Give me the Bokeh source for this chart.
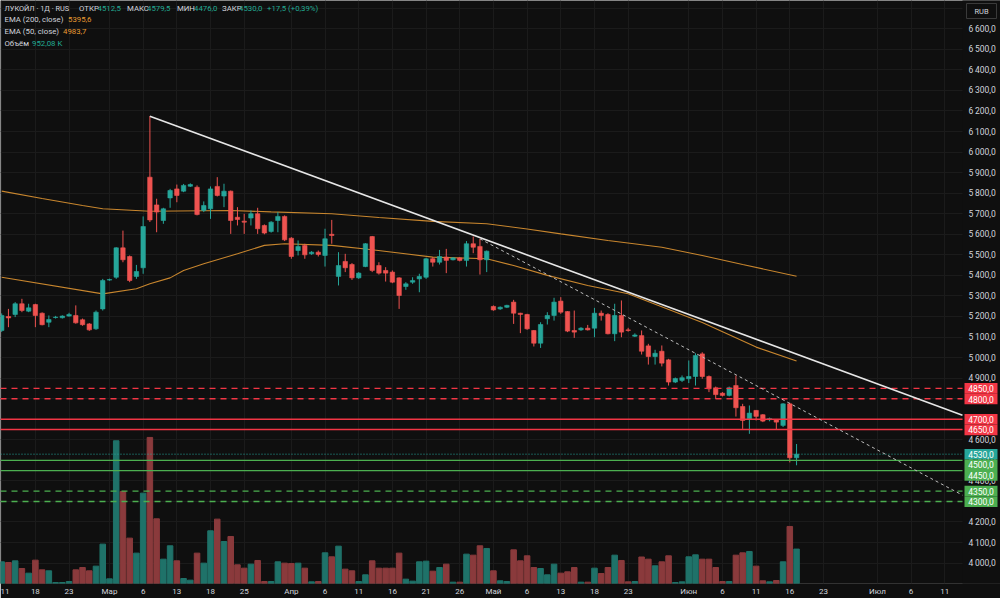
from bokeh.plotting import figure
from bokeh.models import Range1d, FixedTicker, Label, ColumnDataSource, AllLabels, Grid
from bokeh.core.properties import value
from bokeh.embed import file_html
from bokeh.resources import INLINE

# ---------------- data ----------------
opens = [5132, 5200, 5210, 5262, 5226, 5258, 5216, 5172, 5195, 5194,
         5202, 5205, 5184, 5164, 5140, 5237, 5377, 5391, 5534, 5492,
         5395, 5437, 5878, 5743, 5667, 5777, 5821, 5810, 5834, 5829,
         5716, 5724, 5833, 5786, 5810, 5683, 5664, 5679, 5700, 5643,
         5614, 5667, 5687, 5581, 5521, 5546, 5505, 5513, 5497, 5600,
         5395, 5468, 5453, 5388, 5443, 5589, 5448, 5424, 5416, 5388,
         5346, 5367, 5383, 5391, 5481, 5464, 5489, 5476, 5485, 5473,
         5554, 5541, 5476, 5249, 5237, 5245, 5270, 5216, 5210, 5132,
         5070, 5189, 5205, 5275, 5224, 5132, 5135, 5143, 5143, 5216,
         5210, 5116, 5205, 5135, 5104, 5107, 5057, 5005, 5031, 4989,
         4881, 4889, 4897, 4908, 5018, 4908, 4853, 4827, 4816, 4864,
         4762, 4702, 4743, 4722, 4698, 4697, 4670, 4775, 4512.5]
highs = [5215, 5237, 5270, 5286, 5262, 5262, 5220, 5205, 5203, 5206,
         5218, 5254, 5190, 5168, 5229, 5383, 5384, 5537, 5618, 5497,
         5451, 5687, 6175, 5773, 5729, 5821, 5842, 5845, 5848, 5838,
         5760, 5833, 5878, 5846, 5813, 5732, 5700, 5716, 5729, 5648,
         5664, 5708, 5692, 5586, 5570, 5554, 5518, 5521, 5627, 5670,
         5513, 5505, 5460, 5416, 5557, 5592, 5464, 5440, 5424, 5391,
         5367, 5391, 5408, 5486, 5489, 5524, 5529, 5489, 5489, 5567,
         5589, 5578, 5521, 5254, 5249, 5257, 5281, 5218, 5213, 5134,
         5172, 5221, 5291, 5294, 5226, 5229, 5148, 5159, 5242, 5229,
         5216, 5262, 5278, 5145, 5118, 5132, 5067, 5038, 5059, 4994,
         4903, 4913, 4986, 5021, 5026, 4913, 4859, 4832, 4859, 4913,
         4775, 4767, 4745, 4725, 4708, 4700, 4778, 4780, 4579.5]
lows = [5125, 5148, 5197, 5221, 5221, 5148, 5157, 5148, 5190, 5190,
        5199, 5165, 5155, 5130, 5135, 5229, 5374, 5383, 5464, 5367,
        5383, 5408, 5660, 5610, 5651, 5729, 5756, 5805, 5830, 5692,
        5708, 5675, 5784, 5732, 5602, 5643, 5602, 5643, 5602, 5600,
        5608, 5610, 5567, 5481, 5497, 5481, 5500, 5492, 5443, 5554,
        5351, 5416, 5378, 5383, 5440, 5416, 5404, 5370, 5362, 5237,
        5330, 5359, 5318, 5383, 5443, 5453, 5411, 5473, 5468, 5443,
        5508, 5404, 5416, 5228, 5232, 5241, 5164, 5119, 5135, 5054,
        5047, 5161, 5180, 5213, 5124, 5096, 5130, 5132, 5099, 5180,
        5113, 5080, 5099, 5126, 5100, 5015, 4966, 4966, 4957, 4864,
        4876, 4881, 4876, 4864, 4897, 4832, 4799, 4811, 4811, 4713,
        4653, 4629, 4694, 4686, 4690, 4648, 4662, 4490, 4476]
closes = [5205, 5193, 5262, 5229, 5242, 5205, 5160, 5185, 5197, 5202,
          5210, 5169, 5160, 5135, 5221, 5375, 5380, 5534, 5476, 5375,
          5419, 5638, 5670, 5708, 5724, 5813, 5789, 5838, 5842, 5696,
          5740, 5821, 5789, 5810, 5667, 5672, 5659, 5700, 5627, 5606,
          5659, 5687, 5573, 5492, 5541, 5500, 5513, 5502, 5578, 5594,
          5448, 5437, 5388, 5411, 5554, 5424, 5411, 5411, 5367, 5302,
          5359, 5375, 5395, 5481, 5464, 5492, 5473, 5485, 5473, 5554,
          5537, 5476, 5518, 5232, 5245, 5254, 5216, 5210, 5140, 5070,
          5161, 5205, 5270, 5221, 5129, 5124, 5143, 5135, 5216, 5205,
          5116, 5205, 5124, 5132, 5110, 5031, 5005, 5021, 4973, 4881,
          4898, 4902, 4908, 5010, 4908, 4848, 4820, 4816, 4853, 4756,
          4694, 4730, 4714, 4691, 4703, 4686, 4775, 4512.5, 4530]
volumes_k = [600, 581, 627, 415, 286, 646, 378, 351, 28, 28,
             55, 378, 443, 351, 480, 1089, 129, 3949, 2546, 1255,
             840, 2500, 4041, 1790, 673, 1043, 627, 138, 92, 840,
             563, 1458, 1781, 1162, 1301, 517, 424, 535, 637, 55,
             55, 600, 563, 554, 563, 424, 46, 55, 849, 738,
             1033, 397, 351, 55, 240, 627, 424, 424, 424, 840,
             120, 65, 600, 618, 341, 443, 535, 37, 37, 812,
             784, 1043, 969, 351, 74, 55, 932, 627, 766, 443,
             415, 240, 535, 286, 323, 443, 37, 37, 424, 277,
             443, 784, 637, 46, 55, 733, 673, 489, 600, 766,
             28, 46, 738, 793, 673, 673, 443, 55, 55, 784,
             849, 886, 480, 74, 46, 83, 600, 1578, 952.08]

ema200_bars = [0, 6, 12, 15, 22, 34, 40, 49, 56, 64, 72, 78, 83, 90, 98, 104, 110, 118]
ema200_vals = [5810, 5774, 5740, 5724, 5712, 5716, 5709, 5700, 5682, 5663, 5651,
               5626, 5602, 5570, 5537, 5497, 5453, 5395.6]
ema50_bars = [0, 15, 20, 22, 25, 27, 30, 35, 39, 42, 49, 55, 64, 72, 76, 81, 87, 93, 104, 112, 118]
ema50_vals = [5391, 5310, 5335, 5359, 5388, 5424, 5457, 5505, 5546, 5554, 5546, 5525,
              5489, 5481, 5448, 5400, 5351, 5311, 5171, 5051, 4983.7]

# drawn trend lines: two anchors each (bar, price), extended to the right
trend_solid = [(22, 6175), (70, 5596)]
trend_dashed = [(71, 5578), (117, 4777)]

resist_levels = [4850, 4800, 4700, 4650]
resist_dashed = [True, True, False, False]
support_levels = [4500, 4450, 4350, 4300]
support_dashed = [False, False, True, True]
last_price = 4530

date_ticks = [0, 5, 10, 16, 21, 26, 31, 36, 43, 48, 53, 58, 63, 68, 73, 78, 83, 88, 93,
              102, 107, 112, 117, 122, 130, 135, 140]
date_labels = ["11", "18", "23", "Мар", "6", "13", "18", "25", "Апр", "6", "11", "16", "21",
               "26", "Май", "6", "13", "18", "23", "Июн", "6", "11", "16", "23", "Июл", "6", "11"]
price_ticks = list(range(4000, 6700, 100))
currency = "RUB"

# ---------------- styling ----------------
BG = "#0f0f0f"
GRID = "#1b1b1b"
UP = "#26a69a"
DOWN = "#ef5350"
VOL_UP = "#1f7269"
VOL_DOWN = "#8a3a3c"
RED = "#f23645"
GREEN = "#4caf50"
EMA_COL = "#c8862e"
TXT = "#d1d4dc"
FONT = "Roboto"

FW, FH = 1000, 583
BAR_PX = 6.736                     # pixels per bar
X0 = -0.178
X1 = X0 + FW / BAR_PX
Y0, Y1 = 3900.7, 6737.7


def xd(px):   # frame pixel -> bar coordinate
    return X0 + px / BAR_PX


def yd(py):   # frame pixel from top -> price
    return Y1 - py * (Y1 - Y0) / FH


SCALE_L = 962  # where the price scale begins

p = figure(frame_width=FW, frame_height=FH,
           x_range=Range1d(X0, X1), y_range=Range1d(Y0, Y1),
           y_axis_location=None, output_backend="svg", toolbar_location=None,
           min_border_left=0, min_border_top=0, min_border_bottom=0, min_border_right=0,
           background_fill_color=BG, border_fill_color=BG, outline_line_color=None)

p.extra_y_ranges = {"vol": Range1d(0, 16130)}

# grid
p.xgrid.grid_line_color = GRID
p.add_layout(Grid(dimension=1, ticker=FixedTicker(ticks=list(range(3900, 6800, 100))),
                  grid_line_color=GRID))

# date axis
xax = p.xaxis[0]
xax.ticker = FixedTicker(ticks=date_ticks)
xax.major_label_overrides = {t: l for t, l in zip(date_ticks, date_labels)}
xax.axis_line_color = None
xax.major_tick_line_color = None
xax.minor_tick_line_color = None
xax.major_tick_out = 0
xax.major_tick_in = 0
xax.minor_tick_out = 0
xax.major_label_text_color = TXT
xax.major_label_text_font = FONT
xax.major_label_text_font_size = "8px"
xax.major_label_standoff = 3
xax.major_label_policy = AllLabels()

# mask grid inside the price-scale strip
p.quad(left=[xd(SCALE_L)], right=[X1 + 5], bottom=[Y0 - 500], top=[Y1 + 500],
       fill_color=BG, line_color=None)

# volume
bars = list(range(len(opens)))
up = [c >= o for o, c in zip(opens, closes)]
vsrc = ColumnDataSource(dict(x=bars, v=volumes_k,
                             c=[VOL_UP if u else VOL_DOWN for u in up]))
p.vbar(x="x", top="v", bottom=0, width=0.82, color="c", source=vsrc, y_range_name="vol")

# EMA lines
p.line(ema200_bars, ema200_vals, line_color=EMA_COL, line_width=1.1)
p.line(ema50_bars, ema50_vals, line_color=EMA_COL, line_width=1.1)

# candles
csrc = ColumnDataSource(dict(
    x=bars, h=highs, l=lows,
    t=[max(o, c) for o, c in zip(opens, closes)],
    b=[min(o, c) for o, c in zip(opens, closes)],
    c=[UP if u else DOWN for u in up]))
p.segment(x0="x", y0="l", x1="x", y1="h", line_color="c", line_width=1, source=csrc)
p.vbar(x="x", top="t", bottom="b", width=0.66, fill_color="c", line_color="c",
       line_width=0.6, source=csrc)

# horizontal levels (stop at the price scale)
x_end = xd(SCALE_L)
for lv, d in zip(resist_levels, resist_dashed):
    p.segment(x0=[X0], x1=[x_end], y0=[lv], y1=[lv], line_color=RED, line_width=1.4,
              line_dash="6 5" if d else "solid")
for lv, d in zip(support_levels, support_dashed):
    p.segment(x0=[X0], x1=[x_end], y0=[lv], y1=[lv], line_color=GREEN, line_width=1.4,
              line_dash="6 5" if d else "solid")
p.segment(x0=[X0], x1=[x_end], y0=[last_price], y1=[last_price], line_color=UP,
          line_width=1, line_dash="1 2")


# trend lines (extended to the price scale)
def extend(anchors, x_stop):
    (xa, ya), (xb, yb) = anchors
    slope = (yb - ya) / (xb - xa)
    return [xa, x_stop], [ya, ya + slope * (x_stop - xa)]


tx, ty = extend(trend_solid, x_end)
p.line(tx, ty, line_color="#e6e6e6", line_width=1.6)
tx, ty = extend(trend_dashed, x_end)
p.line(tx, ty, line_color="#bdbdbd", line_width=1, line_dash="3 3")

# price scale tick labels
p.text(x=[xd(968)] * len(price_ticks), y=price_ticks,
       text=[f"{t // 1000}\u2009{t % 1000:03d},0" for t in price_ticks],
       text_font=value(FONT), text_font_size="8.5px", text_color=TXT,
       text_baseline="middle", text_align="left")

# price labels of the levels (stacked so they don't overlap)
px_per_price = FH / (Y1 - Y0)
box_h = 10.6 / px_per_price
entries = [(lv, RED) for lv in resist_levels] + [(last_price, UP)] + \
          [(lv, GREEN) for lv in support_levels]
entries.sort(key=lambda e: -e[0])
prev = None
pos_list, col_list, txt_list = [], [], []
for lv, col in entries:
    pos = lv if prev is None else min(lv, prev - box_h)
    prev = pos
    pos_list.append(pos)
    col_list.append(col)
    txt_list.append(f"{lv:.0f},0")
p.quad(left=[xd(964)] * len(pos_list), right=[xd(997)] * len(pos_list),
       top=[q + box_h / 2 for q in pos_list], bottom=[q - box_h / 2 for q in pos_list],
       fill_color=col_list, line_color=None)
p.text(x=[xd(980.5)] * len(pos_list), y=pos_list, text=txt_list,
       text_font=value(FONT), text_font_size="8.5px", text_color="white",
       text_baseline="middle", text_align="center")

# currency box
p.quad(left=[xd(966)], right=[xd(996)], top=[yd(3)], bottom=[yd(18)],
       fill_color=BG, line_color="#3a3a3a", line_width=1)
p.text(x=[xd(981)], y=[yd(10.5)], text=[currency], text_font=value(FONT),
       text_font_size="7.5px", text_color=TXT, text_baseline="middle", text_align="center")


# legend / header texts
def head(x, y_top, text, color, size="7.8px"):
    p.add_layout(Label(x=x, y=FH - y_top, x_units="screen", y_units="screen", text=text,
                       text_color=color, text_font=FONT, text_font_size=size,
                       text_baseline="middle"))


TEAL_T = "#22ab94"
ORANGE_T = "#e89b32"
head(4, 7.5, "ЛУКОЙЛ · 1Д · RUS", TXT, "7.4px")
head(78.5, 7.5, "ОТКР", TXT)
head(97, 7.5, "4512,5", TEAL_T)
head(126.5, 7.5, "МАКС", TXT)
head(146.5, 7.5, "4579,5", TEAL_T)
head(176.5, 7.5, "МИН", TXT)
head(193.5, 7.5, "4476,0", TEAL_T)
head(221.5, 7.5, "ЗАКР", TXT)
head(238.5, 7.5, "4530,0", TEAL_T)
head(266.5, 7.5, "+17,5 (+0,39%)", TEAL_T)
head(4, 19.3, "EMA (200, close)", TXT)
head(67.5, 19.3, "5395,6", ORANGE_T)
head(4, 31, "EMA (50, close)", TXT)
head(62.5, 31, "4983,7", ORANGE_T)
head(4, 42.7, "Объём", TXT)
head(31.5, 42.7, "952,08 K", TEAL_T)

open("out.html", "w").write(file_html(p, INLINE))
